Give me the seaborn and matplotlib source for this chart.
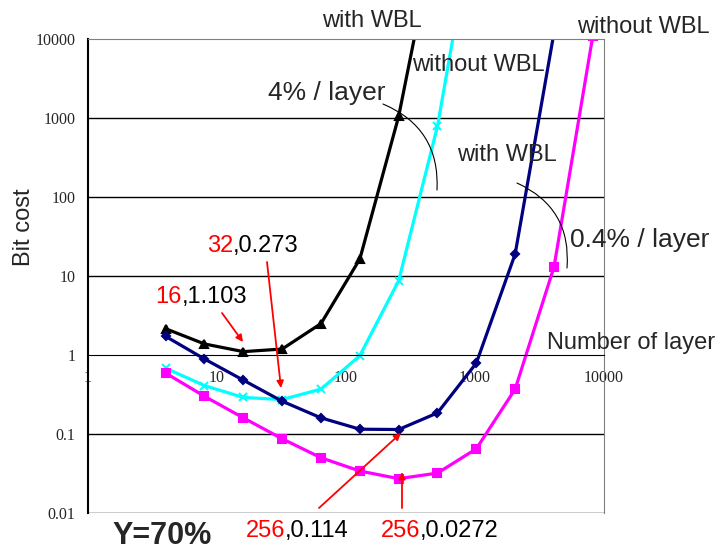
import matplotlib
matplotlib.use('Agg')
import matplotlib.pyplot as plt
import seaborn as sns

# data
layers = [4, 8, 16, 32, 64, 128, 256, 512, 1024, 2048, 4096, 8192]
with_wbl_4 = [2.15, 1.38, 1.103, 1.19, 2.5, 16.4, 1050, 3e5]
without_wbl_4 = [0.68, 0.41, 0.29, 0.273, 0.37, 0.98, 8.7, 790, 5e5]
with_wbl_04 = [1.72, 0.89, 0.48, 0.26, 0.16, 0.115, 0.114, 0.185, 0.79, 19, 1.2e4]
without_wbl_04 = [0.59, 0.30, 0.16, 0.087, 0.05, 0.034, 0.0272, 0.032, 0.065, 0.37, 13, 1.1e4]

x_ticks = [1, 10, 100, 1000, 10000]
y_ticks = [0.01, 0.1, 1, 10, 100, 1000, 10000]

sns.set_style('white')
plt.rcParams['font.family'] = ['Liberation Sans', 'DejaVu Sans']

W, H = 718, 550
fig = plt.figure(figsize=(W / 100, H / 100), dpi=100)
ax = fig.add_axes([88 / W, 1 - 513 / H, (604 - 88) / W, (513 - 39) / H])


def px(x, y):
    return (x / W, 1 - y / H)


series = [
    (with_wbl_4, 'black', '^', 6),
    (without_wbl_4, '#00FFFF', 'x', 6),
    (with_wbl_04, '#000080', 'D', 4.5),
    (without_wbl_04, '#FF00FF', 's', 5.5),
]
for vals, col, mk, ms in series:
    sns.lineplot(x=layers[:len(vals)], y=vals, ax=ax, color=col, lw=2.3,
                 marker=mk, markersize=ms, markeredgecolor=col,
                 markeredgewidth=1.5, sort=False)

ax.set_xscale('log')
ax.set_yscale('log')
ax.set_xlim(1, 10000)
ax.set_ylim(0.01, 10000)

for v in [0.01, 0.1, 10, 100, 1000]:
    ax.axhline(v, color='black', lw=1, zorder=0)

ax.spines['bottom'].set_position(('data', 1))
ax.spines['bottom'].set_color('black')
ax.spines['left'].set_color('black')
ax.spines['left'].set_linewidth(1.5)
ax.spines['right'].set_color('#808080')
ax.spines['top'].set_color('#808080')

ax.set_xticks(x_ticks)
ax.set_xticklabels([str(t) for t in x_ticks])
ax.set_yticks(y_ticks)
ax.set_yticklabels([str(t) for t in y_ticks])
ax.minorticks_off()
ax.tick_params(axis='x', direction='in', length=4, width=1, pad=11, labelsize=11.5)
ax.tick_params(axis='y', length=0, pad=9, labelsize=11.5)
for lab in ax.get_xticklabels() + ax.get_yticklabels():
    lab.set_fontfamily('Liberation Serif')
ax.set_xlabel('')
ax.set_ylabel('')

# text labels
fig.text(*px(24, 227), 'Bit cost', rotation=90, ha='center', va='center', fontsize=17)
fig.text(*px(322, 27), 'with WBL', fontsize=17, va='baseline')
fig.text(*px(412, 71), 'without WBL', fontsize=17, va='baseline')
fig.text(*px(268, 100), '4% / layer', fontsize=19, va='baseline')
fig.text(*px(457, 161), 'with WBL', fontsize=17, va='baseline')
fig.text(*px(570, 247), '0.4% / layer', fontsize=19, va='baseline')
fig.text(*px(577, 33), 'without WBL', fontsize=17, va='baseline')
fig.text(*px(547, 349), 'Number of layer', fontsize=17, va='baseline')
fig.text(*px(112, 544), 'Y=70%', fontsize=22, fontweight='bold', va='baseline')

# red/black value labels
for split_x, base_y, red, black in [(233, 252, '32', ',0.273'),
                                     (182, 303, '16', ',1.103'),
                                     (285, 537, '256', ',0.114'),
                                     (420, 537, '256', ',0.0272')]:
    fig.text(*px(split_x, base_y), red, color='red', fontsize=17, ha='right', va='baseline')
    fig.text(*px(split_x, base_y), black, color='black', fontsize=17, ha='left', va='baseline')

# red arrows
for tail, tip in [((222, 313), (243, 342)),
                  ((267, 262), (281, 388)),
                  ((319, 508), (401, 433)),
                  ((402, 508), (402, 472))]:
    ax.annotate('', xy=px(*tip), xytext=px(*tail), xycoords='figure fraction',
                textcoords='figure fraction', annotation_clip=False,
                arrowprops=dict(arrowstyle='-|>', color='red', lw=1.3,
                                mutation_scale=10, shrinkA=0, shrinkB=0))

# thin arcs
for a, b in [((383, 104), (437, 190)), ((517, 183), (567, 268))]:
    ax.annotate('', xy=px(*b), xytext=px(*a), xycoords='figure fraction',
                textcoords='figure fraction', annotation_clip=False,
                arrowprops=dict(arrowstyle='-', color='black', lw=0.8,
                                connectionstyle='arc3,rad=-0.35',
                                shrinkA=0, shrinkB=0))

fig.savefig('out.png', dpi=100)
